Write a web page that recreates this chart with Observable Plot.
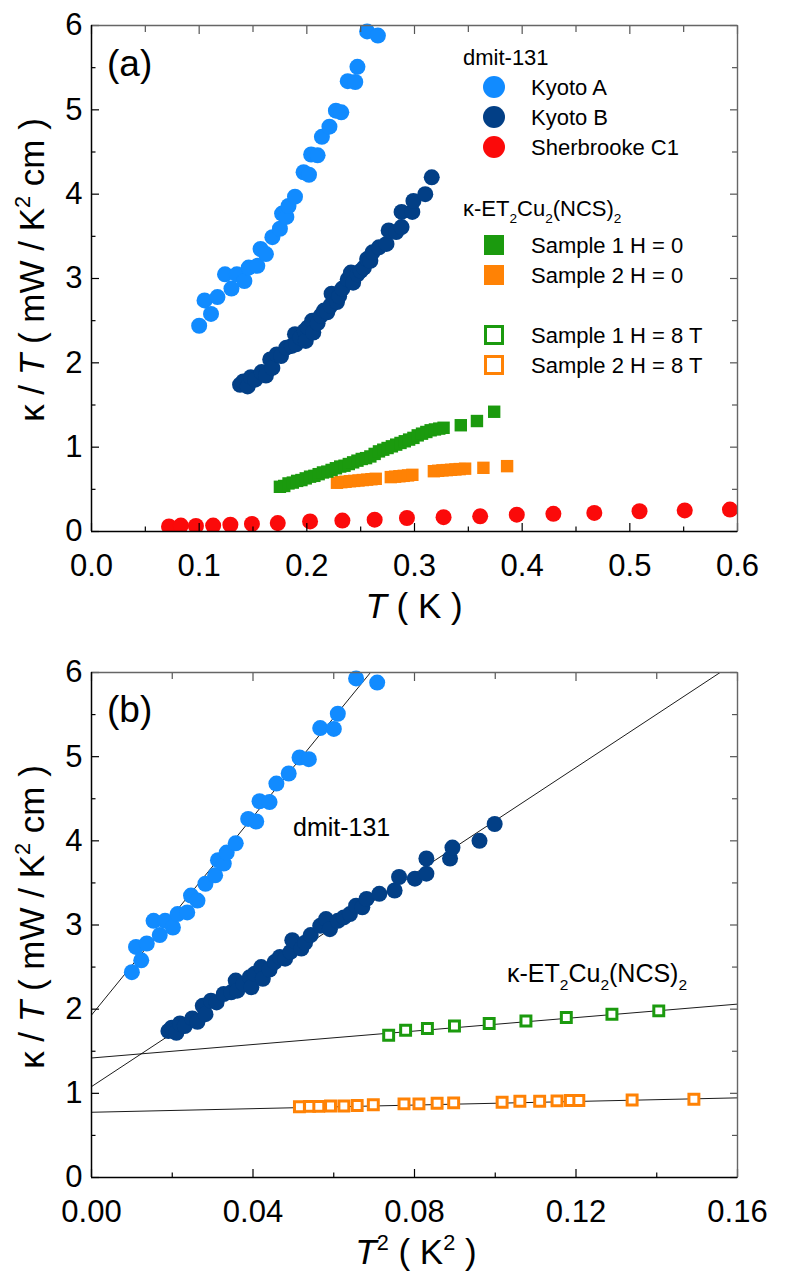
<!DOCTYPE html>
<html>
<head>
<meta charset="utf-8">
<script src="https://cdn.jsdelivr.net/npm/d3@7"></script>
<script src="https://cdn.jsdelivr.net/npm/@observablehq/plot@0.6"></script>
<style>
  body { margin: 0; background: #fff; }
  #chart { width: 798px; }
  svg { display: block; }
</style>
</head>
<body>
<div id="chart"></div>
<script>
// ---------------- DATA ----------------
// Panel (a): kappa/T vs T (K)
const kyotoA_T = [0.100,0.105,0.111,0.117,0.124,0.130,0.135,0.142,0.146,0.154,0.157,0.162,0.168,0.175,0.177,0.181,0.183,0.189,0.197,0.202,0.204,0.210,0.214,0.221,0.227,0.232,0.238,0.245,0.247,0.256,0.266];
const kyotoA_k = [2.44,2.74,2.58,2.78,3.05,2.88,3.05,2.97,3.13,3.15,3.35,3.29,3.49,3.59,3.77,3.73,3.86,3.97,4.26,4.23,4.47,4.46,4.68,4.80,4.99,4.97,5.34,5.33,5.51,5.93,5.88];

const kyotoB_T = [0.138,0.141,0.145,0.148,0.152,0.158,0.162,0.166,0.168,0.172,0.176,0.181,0.186,0.189,0.190,0.194,0.198,0.199,0.201,0.205,0.206,0.210,0.213,0.216,0.219,0.222,0.223,0.228,0.230,0.233,0.238,0.241,0.243,0.247,0.250,0.253,0.256,0.259,0.261,0.267,0.274,0.276,0.283,0.288,0.288,0.298,0.299,0.310,0.316];
const kyotoB_k = [1.74,1.78,1.72,1.83,1.80,1.89,1.85,2.04,1.94,2.10,2.08,2.18,2.20,2.34,2.22,2.30,2.38,2.26,2.42,2.50,2.36,2.47,2.56,2.62,2.60,2.68,2.82,2.72,2.79,2.88,2.99,3.07,2.95,3.05,3.09,3.13,3.23,3.21,3.31,3.37,3.41,3.57,3.55,3.61,3.79,3.79,3.92,4.00,4.20];

const sherb_T = [0.072,0.083,0.097,0.113,0.129,0.149,0.173,0.203,0.233,0.263,0.293,0.327,0.361,0.395,0.429,0.467,0.509,0.551,0.593];
const sherb_k = [0.06,0.07,0.065,0.07,0.08,0.09,0.10,0.12,0.13,0.14,0.16,0.17,0.18,0.20,0.21,0.22,0.24,0.25,0.26];

const s1H0_T = [0.175,0.179,0.183,0.187,0.191,0.195,0.199,0.203,0.207,0.211,0.215,0.219,0.223,0.227,0.231,0.235,0.239,0.243,0.247,0.251,0.255,0.259,0.263,0.267,0.271,0.275,0.279,0.283,0.287,0.291,0.295,0.299,0.303,0.307,0.311,0.315,0.319,0.323,0.327,0.343,0.358,0.374];
const s1H0_k = [0.53,0.54,0.57,0.58,0.60,0.61,0.63,0.65,0.66,0.68,0.70,0.71,0.73,0.75,0.77,0.78,0.80,0.82,0.84,0.86,0.87,0.89,0.92,0.95,0.97,0.99,1.01,1.03,1.05,1.07,1.09,1.11,1.14,1.16,1.18,1.20,1.21,1.22,1.23,1.26,1.31,1.42];

const s2H0_T = [0.228,0.232,0.236,0.240,0.244,0.248,0.252,0.256,0.260,0.264,0.278,0.282,0.286,0.290,0.294,0.298,0.318,0.322,0.326,0.330,0.334,0.338,0.342,0.347,0.364,0.386];
const s2H0_k = [0.578,0.585,0.59,0.596,0.60,0.605,0.61,0.615,0.62,0.625,0.645,0.65,0.655,0.66,0.665,0.672,0.715,0.72,0.725,0.728,0.732,0.736,0.74,0.745,0.755,0.775];

// Panel (b): kappa/T vs T^2 (K^2), H = 8 T data
const s1H8_T2 = [0.0736,0.0778,0.0832,0.0899,0.0985,0.1076,0.1176,0.1289,0.1405];
const s1H8_k  = [1.69,1.75,1.77,1.80,1.83,1.86,1.90,1.94,1.98];
const s2H8_T2 = [0.0515,0.0540,0.0563,0.0592,0.0625,0.0658,0.0698,0.0774,0.0811,0.0856,0.0897,0.1017,0.1061,0.1110,0.1153,0.1186,0.1207,0.1339,0.1492];
const s2H8_k  = [0.84,0.845,0.845,0.85,0.85,0.855,0.865,0.875,0.875,0.883,0.887,0.895,0.905,0.905,0.91,0.915,0.915,0.92,0.93];

// Linear fits kappa/T = a + b T^2 in panel (b)
const fitNames     = ["Kyoto A", "Kyoto B", "Sample 1 H = 8 T", "Sample 2 H = 8 T"];
const fitIntercept = [1.93, 1.08, 1.42, 0.775];
const fitSlope     = [58.9, 31.6, 4.0, 1.07];

// Ticks
const aXMajor = [0, 0.1, 0.2, 0.3, 0.4, 0.5, 0.6];
const aXMinor = [0.05, 0.15, 0.25, 0.35, 0.45, 0.55];
const bXMajor = [0, 0.04, 0.08, 0.12, 0.16];
const bXMinor = [0.02, 0.06, 0.10, 0.14];
const yMajor  = [0, 1, 2, 3, 4, 5, 6];
const yMinor  = [0.5, 1.5, 2.5, 3.5, 4.5, 5.5];

// Legend
const legendGroups = ["dmit-131", "κ-ET2Cu2(NCS)2"];
const legendLabels = ["Kyoto A", "Kyoto B", "Sherbrooke C1", "Sample 1 H = 0", "Sample 2 H = 0", "Sample 1 H = 8 T", "Sample 2 H = 8 T"];

// ---------------- STYLE ----------------
const cA = "#118bff", cB = "#023f86", cR = "#fb0a0a", cG = "#1b9a0e", cO = "#ff8205";
const FONT = "'Liberation Sans', Arial, Helvetica, sans-serif";
const W = 798, H = 637;

function frameMarks(xMaj, xMin, xDom) {
  const o = {fill: "none", label: null, strokeWidth: 1.2, stroke: "#000"};
  const og = {...o, stroke: "#555"};
  return [
    Plot.axisX(xMaj, {...o, anchor: "bottom", tickSize: -8}),
    Plot.axisX(xMin, {...o, anchor: "bottom", tickSize: -4.5}),
    Plot.axisX(xMaj, {...og, anchor: "top", tickSize: -8}),
    Plot.axisX(xMin, {...og, anchor: "top", tickSize: -6}),
    Plot.axisY(yMajor, {...o, anchor: "left", tickSize: -8}),
    Plot.axisY(yMinor, {...o, anchor: "left", tickSize: -4.5}),
    Plot.axisY(yMajor, {...og, anchor: "right", tickSize: -8}),
    Plot.axisY(yMinor, {...og, anchor: "right", tickSize: -6}),
    Plot.ruleX([xDom[1]], {stroke: "#666", strokeWidth: 1.4}),
    Plot.ruleY([6], {stroke: "#666", strokeWidth: 1.4}),
    Plot.ruleX([xDom[0]], {stroke: "#000", strokeWidth: 1.5}),
    Plot.ruleY([0], {stroke: "#000", strokeWidth: 1.5}),
  ];
}
function labelMarks(xMaj, fmt) {
  return [
    Plot.axisX(xMaj, {anchor: "bottom", tickSize: 0, tickPadding: 22, tickFormat: fmt, label: null, fontSize: 31, fill: "#000"}),
    Plot.axisY(yMajor, {anchor: "left", tickSize: 0, tickPadding: 9, tickFormat: d => String(d), label: null, fontSize: 31, fill: "#000"})
  ];
}

function rich(sel, parts, size) {
  let shift = 0;
  for (const p of parts) {
    const t = sel.append("tspan").text(p.t);
    const target = p.sub ? size * 0.32 : p.sup ? -size * 0.4 : 0;
    if (target !== shift) { t.attr("dy", target - shift); shift = target; }
    if (p.sub || p.sup) t.attr("font-size", size * 0.62);
    if (p.it) t.attr("font-style", "italic");
  }
}
function addText(svg, x, y, parts, size, opts = {}) {
  const t = d3.select(svg).append("text")
    .attr("x", x).attr("y", y)
    .attr("font-size", size)
    .attr("font-family", FONT)
    .attr("fill", "#000")
    .attr("text-anchor", opts.anchor || "start");
  if (opts.transform) t.attr("transform", opts.transform);
  rich(t, parts, size);
  return t;
}
const etParts = [{t: "κ-ET"}, {t: "2", sub: true}, {t: "Cu"}, {t: "2", sub: true}, {t: "(NCS)"}, {t: "2", sub: true}];
const yTitleParts = [{t: "κ / "}, {t: "T", it: true}, {t: " ( mW / K"}, {t: "2", sup: true}, {t: " cm )"}];

// ---------------- PANEL (a) ----------------
const xDomA = [0, 0.6];
const svgA = Plot.plot({
  width: W, height: H,
  marginLeft: 91, marginRight: 61, marginTop: 25, marginBottom: 106,
  style: {fontFamily: FONT, fontSize: "31px", background: "#fff", color: "#000"},
  x: {domain: xDomA, axis: null},
  y: {domain: [0, 6], axis: null},
  marks: [
    Plot.dot(sherb_k, {x: sherb_T, y: sherb_k, r: 8, fill: cR, stroke: "none", clip: true}),
    Plot.dot(s2H0_k, {x: s2H0_T, y: s2H0_k, r: 7, symbol: "square", fill: cO, stroke: "none"}),
    Plot.dot(s1H0_k, {x: s1H0_T, y: s1H0_k, r: 7, symbol: "square", fill: cG, stroke: "none"}),
    Plot.dot(kyotoB_k, {x: kyotoB_T, y: kyotoB_k, r: 8, fill: cB, stroke: "none"}),
    Plot.dot(kyotoA_k, {x: kyotoA_T, y: kyotoA_k, r: 8, fill: cA, stroke: "none"}),
    ...frameMarks(aXMajor, aXMinor, xDomA),
    ...labelMarks(aXMajor, d => d.toFixed(1))
  ]
});

// panel label, axis titles
addText(svgA, 107, 76, [{t: "(a)"}], 37);
addText(svgA, 414, 618, [{t: "T", it: true}, {t: " ( K )"}], 35, {anchor: "middle"});
addText(svgA, 0, 0, yTitleParts, 35, {anchor: "middle", transform: "translate(44,270) rotate(-90)"});

// legend
{
  const g = d3.select(svgA).append("g").attr("font-family", FONT);
  const sx = 494, tx = 531, fs = 22;
  addText(svgA, 463, 65, [{t: legendGroups[0]}], fs);
  addText(svgA, 463, 216, etParts, fs);
  const rowsY = [87, 117, 147, 245, 275, 335, 365];
  const kinds = ["c", "c", "c", "s", "s", "o", "o"];
  const cols = [cA, cB, cR, cG, cO, cG, cO];
  legendLabels.forEach((lab, i) => {
    const y = rowsY[i];
    if (kinds[i] === "c") g.append("circle").attr("cx", sx).attr("cy", y).attr("r", 11).attr("fill", cols[i]);
    else if (kinds[i] === "s") g.append("rect").attr("x", sx - 10).attr("y", y - 10).attr("width", 20).attr("height", 20).attr("fill", cols[i]);
    else g.append("rect").attr("x", sx - 8.5).attr("y", y - 8.5).attr("width", 17).attr("height", 17).attr("fill", "#fff").attr("stroke", cols[i]).attr("stroke-width", 3);
    addText(svgA, tx, y + 8, [{t: lab}], fs);
  });
}

// ---------------- PANEL (b) ----------------
const xDomB = [0, 0.16];
const sq = v => v * v;
const fitLines = fitNames.map((n, i) => Plot.line(xDomB, {
  x: d => d, y: d => fitIntercept[i] + fitSlope[i] * d,
  stroke: "#000", strokeWidth: 0.9, clip: true
}));
const svgB = Plot.plot({
  width: W, height: H,
  marginLeft: 91, marginRight: 61, marginTop: 35, marginBottom: 97,
  style: {fontFamily: FONT, fontSize: "31px", background: "#fff", color: "#000"},
  x: {domain: xDomB, axis: null},
  y: {domain: [0, 6], axis: null},
  marks: [
    ...fitLines,
    Plot.dot(kyotoB_k, {x: kyotoB_T.map(sq), y: kyotoB_k, r: 8, fill: cB, stroke: "none"}),
    Plot.dot(kyotoA_k, {x: kyotoA_T.map(sq), y: kyotoA_k, r: 8, fill: cA, stroke: "none"}),
    Plot.dot(s1H8_k, {x: s1H8_T2, y: s1H8_k, r: 5.6, symbol: "square", fill: "#fff", stroke: cG, strokeWidth: 3}),
    Plot.dot(s2H8_k, {x: s2H8_T2, y: s2H8_k, r: 5.6, symbol: "square", fill: "#fff", stroke: cO, strokeWidth: 3}),
    ...frameMarks(bXMajor, bXMinor, xDomB),
    ...labelMarks(bXMajor, d => d.toFixed(2))
  ]
});
addText(svgB, 107, 85, [{t: "(b)"}], 37);
addText(svgB, 293, 199, [{t: legendGroups[0]}], 25);
addText(svgB, 507, 345, etParts, 25);
addText(svgB, 416, 627, [{t: "T", it: true}, {t: "2", sup: true}, {t: " ( K"}, {t: "2", sup: true}, {t: " )"}], 35, {anchor: "middle"});
addText(svgB, 0, 0, yTitleParts, 35, {anchor: "middle", transform: "translate(44,280) rotate(-90)"});

const chart = document.getElementById("chart");
chart.appendChild(svgA);
chart.appendChild(svgB);
</script>
</body>
</html>
